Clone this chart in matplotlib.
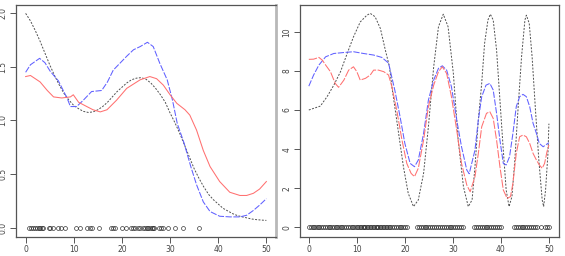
import matplotlib
matplotlib.use("Agg")
import matplotlib.pyplot as plt

# ---- left panel data ----
true_x1 = [0, 1, 2, 3, 4, 5, 6, 7, 8, 9, 10, 11, 12, 13, 14, 15, 16, 17, 18, 19, 20,
           21, 22, 23, 24, 25, 26, 27, 28, 29, 30, 31, 32, 33, 34, 35, 36, 37, 38, 39,
           40, 41, 42, 43, 44, 45, 46, 47, 48, 49, 50]
true_y1 = [2.0, 1.93, 1.84, 1.74, 1.63, 1.52, 1.42, 1.33, 1.25, 1.19, 1.14, 1.11, 1.085,
           1.075, 1.08, 1.10, 1.13, 1.17, 1.22, 1.27, 1.31, 1.35, 1.38, 1.395, 1.40, 1.385,
           1.35, 1.30, 1.24, 1.17, 1.07, 0.98, 0.88, 0.77, 0.66, 0.55, 0.46, 0.38, 0.31,
           0.26, 0.22, 0.18, 0.155, 0.13, 0.112, 0.10, 0.09, 0.08, 0.074, 0.07, 0.067]

blue_x1 = [0, 1, 2.9, 4, 5.1, 6.8, 8.6, 9.3, 10.6, 12, 13.7, 15.8, 17, 18.2, 21, 22.4,
           23.8, 25.3, 26.5, 27.9, 29.4, 30.5, 31.5, 32.9, 34.3, 35.5, 36.9, 38.3, 40.3,
           42.4, 44.5, 45.9, 47.3, 48.6, 50]
blue_y1 = [1.45, 1.52, 1.58, 1.54, 1.46, 1.37, 1.21, 1.13, 1.13, 1.19, 1.27, 1.28, 1.36,
           1.47, 1.6, 1.66, 1.69, 1.73, 1.69, 1.53, 1.38, 1.19, 0.97, 0.79, 0.57, 0.40,
           0.24, 0.15, 0.106, 0.10, 0.10, 0.115, 0.16, 0.21, 0.27]

red_x1 = [0, 1, 3, 4.5, 5.8, 7.5, 9.3, 9.9, 11, 12.7, 14, 15.5, 16.9, 18.9, 21, 21.7,
          23.8, 25.8, 27.2, 28.6, 30, 31.4, 33.1, 34.1, 35.5, 36.9, 38.3, 40.3, 42.4,
          44.5, 45.9, 47.3, 48.6, 50]
red_y1 = [1.41, 1.42, 1.36, 1.28, 1.22, 1.21, 1.22, 1.24, 1.17, 1.13, 1.10, 1.08, 1.10,
          1.19, 1.30, 1.32, 1.38, 1.41, 1.39, 1.33, 1.24, 1.16, 1.10, 1.05, 0.91, 0.72,
          0.57, 0.43, 0.33, 0.30, 0.30, 0.32, 0.36, 0.43]

rug_x1 = [0.7, 1.1, 1.5, 1.9, 2.3, 2.8, 3.0, 3.4, 3.7, 4.8, 5.1, 5.6, 6.8, 7.3, 8.2,
          10.5, 11.3, 12.8, 13.3, 13.7, 15.3, 17.7, 18.1, 18.5, 20.0, 20.9, 21.9, 22.2,
          22.7, 23.4, 23.8, 24.3, 24.8, 25.3, 25.5, 25.8, 26.2, 26.5, 26.7, 27.8, 28.2,
          28.6, 29.6, 31.1, 32.6, 36.0]

# ---- right panel data ----
true_x2 = [0, 2.4, 3.8, 5.2, 6.6, 8.0, 9.3, 10.7, 12.1, 12.8, 13.8, 14.9, 15.9, 16.8,
           17.3, 18.7, 19.7, 20.7, 21.8, 22.8, 23.9, 24.9, 26.0, 27.0, 28.0, 29.0, 30.1,
           31.1, 32.2, 33.2, 34.0, 34.6, 35.3, 36.0, 36.6, 37.3, 37.8, 38.4, 39.1, 39.8,
           40.5, 41.1, 41.7, 42.3, 42.9, 43.6, 44.3, 45.0, 45.3, 45.9, 46.5, 47.2, 47.9,
           48.6, 48.9, 49.3, 49.8, 50.0]
true_y2 = [6.0, 6.2, 6.68, 7.27, 7.96, 8.9, 9.74, 10.5, 10.85, 10.94, 10.77, 10.17, 9.1,
           8.2, 7.19, 4.8, 3.1, 1.74, 1.06, 1.4, 2.76, 5.14, 8.2, 10.26, 10.9, 10.26, 7.87,
           4.46, 2.08, 1.06, 1.4, 3.1, 5.49, 7.36, 9.4, 10.6, 10.9, 10.6, 9.06, 6.5, 3.95,
           1.9, 1.06, 1.57, 3.44, 6.17, 8.72, 10.6, 10.85, 10.43, 8.72, 6.0, 3.44, 1.4,
           1.06, 1.9, 3.78, 5.3]

blue_x2 = [0, 1.0, 2.1, 3.5, 5.2, 7.3, 9.3, 11.4, 13.5, 15.2, 16.6, 17.9, 19.0, 20.0,
           21.1, 22.0, 22.8, 23.9, 24.9, 26.0, 27.0, 27.8, 28.7, 29.7, 30.8, 31.8, 32.9,
           33.4, 34.6, 35.3, 36.0, 36.9, 37.7, 38.4, 39.1, 39.8, 40.5, 41.1, 41.8, 42.5,
           43.2, 43.9, 44.6, 45.3, 46.0, 46.7, 47.4, 48.0, 48.8, 49.3, 50.0]
blue_y2 = [7.22, 7.79, 8.3, 8.72, 8.89, 8.94, 8.98, 8.89, 8.81, 8.69, 8.4, 7.02, 5.66,
           4.29, 3.27, 3.1, 3.44, 4.8, 6.5, 7.53, 8.13, 8.26, 8.04, 7.19, 5.49, 4.12, 2.93,
           2.74, 3.95, 5.49, 6.68, 7.27, 7.36, 7.02, 5.83, 4.46, 3.27, 3.19, 3.61, 4.8,
           6.17, 6.68, 6.8, 6.68, 6.17, 5.32, 4.8, 4.29, 4.12, 4.21, 4.33]

red_x2 = [0, 1.0, 2.1, 2.8, 3.5, 4.5, 5.5, 6.2, 7.3, 8.3, 9.3, 10.0, 10.7, 11.8, 12.8,
          13.5, 14.5, 15.6, 16.6, 17.3, 18.3, 19.4, 20.4, 21.3, 22.0, 22.8, 23.9, 24.9,
          26.0, 27.0, 27.8, 28.7, 29.7, 30.8, 31.8, 32.9, 33.6, 34.6, 35.3, 36.0, 37.0,
          37.7, 38.4, 39.1, 39.8, 40.5, 41.3, 42.0, 42.5, 43.2, 43.9, 44.6, 45.3, 46.0,
          46.7, 47.4, 48.0, 48.6, 49.1, 49.6, 50.0]
red_y2 = [8.59, 8.6, 8.69, 8.55, 8.3, 7.96, 7.36, 7.16, 7.53, 8.04, 8.21, 7.96, 7.53,
          7.62, 7.79, 8.04, 8.04, 7.96, 7.79, 7.19, 6.0, 4.46, 3.27, 2.76, 2.59, 3.02,
          4.46, 6.17, 7.27, 7.96, 8.21, 7.87, 6.68, 4.97, 3.27, 2.16, 1.82, 2.59, 3.78,
          5.14, 5.83, 5.91, 5.57, 4.46, 3.1, 1.91, 1.48, 1.57, 2.25, 3.78, 4.63, 4.72,
          4.63, 4.29, 3.78, 3.44, 3.19, 3.02, 3.27, 3.87, 4.21]

rug_x2 = [0.1, 0.4, 0.8, 1.1, 1.5, 1.9, 2.2, 2.6, 3.0, 3.3, 3.7, 4.1, 4.5, 4.8, 5.2,
          5.6, 5.9, 6.3, 6.7, 7.0, 7.4, 7.8, 8.1, 8.5, 8.9, 9.2, 9.6, 10.0, 10.3, 10.6,
          10.9, 11.2, 11.5, 11.8, 12.1, 12.4, 12.7, 13.0, 13.3, 13.6, 13.9, 14.2, 14.5,
          14.8, 15.1, 15.4, 15.7, 16.0, 16.3, 16.6, 16.9, 17.3, 17.7, 18.1, 18.5, 18.9,
          19.3, 19.7, 20.1, 20.5, 22.5, 22.9, 23.3, 23.7, 24.1, 24.5, 24.9, 25.3, 25.7,
          26.1, 26.5, 26.9, 27.3, 27.7, 28.1, 28.5, 28.9, 29.3, 29.7, 30.1, 30.5, 30.9,
          31.3, 31.7, 32.1, 34.4, 34.8, 35.2, 35.6, 36.0, 36.4, 36.8, 37.2, 37.6, 38.0,
          38.4, 38.8, 39.2, 39.6, 40.0, 42.7, 43.1, 43.5, 43.9, 44.3, 44.7, 45.1, 45.5,
          45.9, 46.3, 46.7, 47.1, 47.6, 48.3, 49.2, 49.6, 50.0]

RED = "#ff7070"
BLUE = "#6060ff"
BLACK = "#505050"
AXC = "#555555"

fig = plt.figure(figsize=(5.65, 2.56), dpi=100)
ax1 = fig.add_axes([16 / 565, 1 - 236.7 / 256, 260 / 565, 231.7 / 256])
ax2 = fig.add_axes([299.7 / 565, 1 - 236.7 / 256, 259.3 / 565, 231.7 / 256])


def style(ax, yticks, ylabels):
    for s in ax.spines.values():
        s.set_color(AXC)
        s.set_linewidth(0.9)
    ax.set_xticks([0, 10, 20, 30, 40, 50])
    ax.set_yticks(yticks)
    ax.set_yticklabels(ylabels, rotation=90, va="center")
    ax.tick_params(axis="both", direction="out", length=4, width=0.7, color=AXC,
                   labelsize=5.5, labelcolor="#444444", pad=2)


ax1.plot(true_x1, true_y1, color=BLACK, lw=0.7, dashes=(2, 1.5))
ax1.plot(blue_x1, blue_y1, color=BLUE, lw=0.75, dashes=(6, 1.5))
ax1.plot(red_x1, red_y1, color=RED, lw=0.75)
ax1.plot(rug_x1, [0] * len(rug_x1), "o", mfc="none", mec="#222222", ms=2.8, mew=0.45)
ax1.set_xlim(-2, 52)
ax1.set_ylim(-0.085, 2.078)
style(ax1, [0, 0.5, 1.0, 1.5, 2.0], ["0.0", "0.5", "1.0", "1.5", "2.0"])
ax1.spines["right"].set_color("#b8b8b8")
ax1.spines["right"].set_linewidth(2)

ax2.plot(true_x2, true_y2, color=BLACK, lw=0.7, dashes=(2, 1.5))
ax2.plot(blue_x2, blue_y2, color=BLUE, lw=0.75, dashes=(6, 1.5))
ax2.plot(red_x2, red_y2, color=RED, lw=0.75, dashes=(8, 1.5))
ax2.plot(rug_x2, [0] * len(rug_x2), "o", mfc="none", mec="#222222", ms=2.8, mew=0.45)
ax2.set_xlim(-1.9, 52.1)
ax2.set_ylim(-0.48, 11.37)
style(ax2, [0, 2, 4, 6, 8, 10], ["0", "2", "4", "6", "8", "10"])

fig.savefig("out.png", dpi=100)
